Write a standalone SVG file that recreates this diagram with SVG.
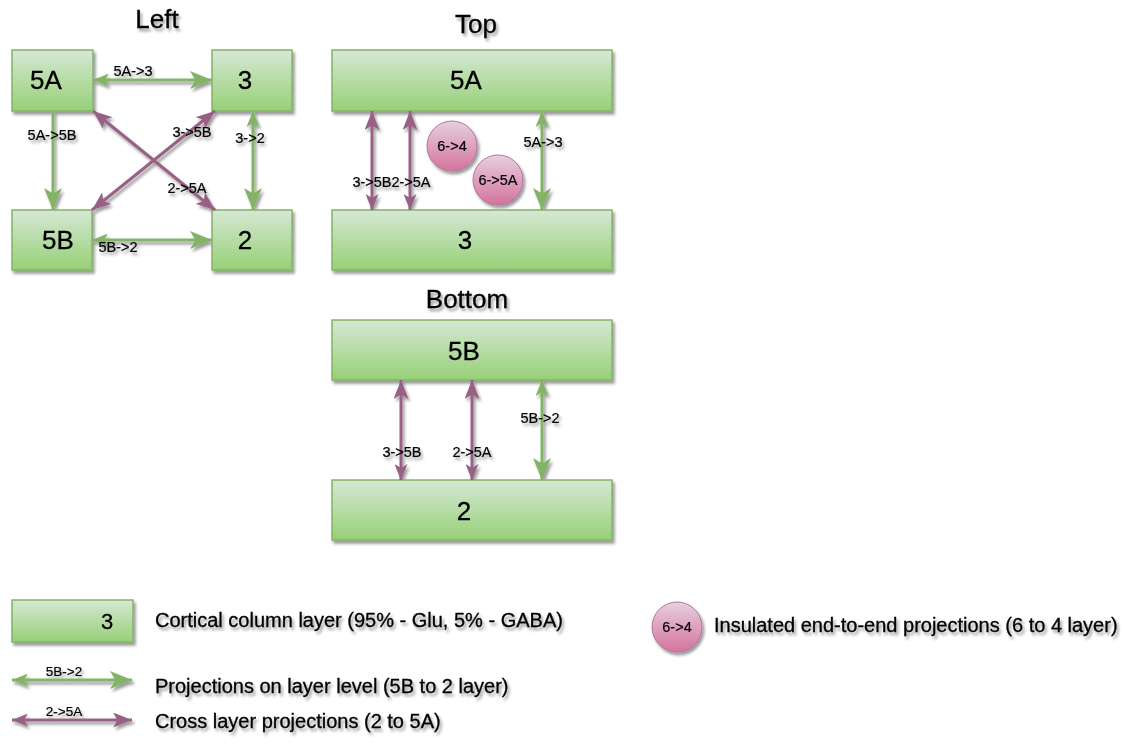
<svg xmlns="http://www.w3.org/2000/svg" width="1139" height="747" viewBox="0 0 1139 747">
<defs>
<linearGradient id="gG" x1="0" y1="0" x2="0" y2="1"><stop offset="0" stop-color="#d5e8d4"/><stop offset="1" stop-color="#97d077"/></linearGradient>
<linearGradient id="gP" x1="0" y1="0" x2="0" y2="1"><stop offset="0" stop-color="#e6d0de"/><stop offset="1" stop-color="#d5739d"/></linearGradient>
<filter id="sh" x="-20%" y="-20%" width="140%" height="160%">
<feGaussianBlur in="SourceAlpha" stdDeviation="1.6"/>
<feOffset dx="2" dy="3" result="b"/>
<feComponentTransfer><feFuncA type="linear" slope="0.4"/></feComponentTransfer>
<feMerge><feMergeNode/><feMergeNode in="SourceGraphic"/></feMerge>
</filter>
<marker id="gB" viewBox="0 0 22 18" refX="22" refY="9" markerWidth="22" markerHeight="18" markerUnits="userSpaceOnUse" orient="auto-start-reverse"><path d="M0,0 L22,9 L0,18 L5.5,9 Z" fill="#82b366"/></marker>
<marker id="gS" viewBox="0 0 16 13" refX="16" refY="6.5" markerWidth="16" markerHeight="13" markerUnits="userSpaceOnUse" orient="auto-start-reverse"><path d="M0,0 L16,6.5 L0,13 L4,6.5 Z" fill="#82b366"/></marker>
<marker id="pB" viewBox="0 0 19 15" refX="19" refY="7.5" markerWidth="19" markerHeight="15" markerUnits="userSpaceOnUse" orient="auto-start-reverse"><path d="M0,0 L19,7.5 L0,15 L4.5,7.5 Z" fill="#996185"/></marker>
<marker id="pS" viewBox="0 0 16 13" refX="16" refY="6.5" markerWidth="16" markerHeight="13" markerUnits="userSpaceOnUse" orient="auto-start-reverse"><path d="M0,0 L16,6.5 L0,13 L4,6.5 Z" fill="#996185"/></marker>
</defs>
<style>
.box{fill:url(#gG);stroke:#82b366;stroke-width:1.5}
.cir{fill:url(#gP);stroke:#b5739d;stroke-width:1}
text{font-family:"Liberation Sans",Arial,sans-serif;fill:#000;stroke:#000;stroke-width:0.3}
.bl{font-size:26px;text-anchor:middle}
.tt{font-size:26px;text-anchor:middle}
.al{font-size:14.5px;text-anchor:middle;stroke-width:0.2}
.lg{font-size:20px}
.g{stroke:#82b366;stroke-width:3;fill:none}
.p{stroke:#996185;stroke-width:3;fill:none}
</style>
<rect width="1139" height="747" fill="#ffffff"/>
<g filter="url(#sh)">
<g id="titles">
<text class="tt" x="157" y="28">Left</text>
<text class="tt" x="476" y="33">Top</text>
<text class="tt" x="467" y="308">Bottom</text>
</g>
<g id="left-5A"><rect class="box" x="12" y="50" width="81" height="61"/><text class="bl" x="46" y="89">5A</text></g>
<g id="left-3"><rect class="box" x="212" y="50" width="80" height="61"/><text class="bl" x="245" y="89">3</text></g>
<g id="left-5B"><rect class="box" x="12" y="210" width="80" height="60"/><text class="bl" x="58" y="249">5B</text></g>
<g id="left-2"><rect class="box" x="212" y="210" width="80" height="60"/><text class="bl" x="245" y="249">2</text></g>
<g id="top-5A"><rect class="box" x="332" y="50" width="280" height="61"/><text class="bl" x="466" y="89">5A</text></g>
<g id="top-3"><rect class="box" x="332" y="210" width="280" height="60"/><text class="bl" x="465" y="249">3</text></g>
<g id="bottom-5B"><rect class="box" x="332" y="320" width="280" height="60"/><text class="bl" x="464" y="360">5B</text></g>
<g id="bottom-2"><rect class="box" x="332" y="480" width="280" height="60"/><text class="bl" x="464" y="520">2</text></g>
<g id="circle-6-4"><circle class="cir" cx="452" cy="146" r="25"/><text class="al" x="452" y="151">6-&gt;4</text></g>
<g id="circle-6-5A"><circle class="cir" cx="498" cy="180" r="25"/><text class="al" x="498" y="185">6-&gt;5A</text></g>
<g id="connectors">
<line class="g" x1="93" y1="80" x2="212" y2="80" marker-start="url(#gS)" marker-end="url(#gB)"/>
<line class="g" x1="53" y1="111" x2="53" y2="210" marker-end="url(#gB)"/>
<line class="g" x1="253" y1="111" x2="253" y2="210" marker-start="url(#gS)" marker-end="url(#gB)"/>
<line class="g" x1="92" y1="240" x2="212" y2="240" marker-start="url(#gS)" marker-end="url(#gB)"/>
<line class="p" x1="93" y1="111" x2="215" y2="210" marker-start="url(#pB)" marker-end="url(#pB)"/>
<line class="p" x1="215" y1="111" x2="92" y2="210" marker-start="url(#pB)" marker-end="url(#pB)"/>
<line class="p" x1="372" y1="210" x2="372" y2="111" marker-start="url(#pS)" marker-end="url(#pB)"/>
<line class="p" x1="410" y1="210" x2="410" y2="111" marker-start="url(#pS)" marker-end="url(#pB)"/>
<line class="g" x1="542" y1="111" x2="542" y2="210" marker-start="url(#gS)" marker-end="url(#gB)"/>
<line class="p" x1="401" y1="480" x2="401" y2="380" marker-start="url(#pS)" marker-end="url(#pB)"/>
<line class="p" x1="472" y1="480" x2="472" y2="380" marker-start="url(#pS)" marker-end="url(#pB)"/>
<line class="g" x1="542" y1="380" x2="542" y2="480" marker-start="url(#gS)" marker-end="url(#gB)"/>
<text class="al" x="133" y="76">5A-&gt;3</text>
<text class="al" x="52" y="140">5A-&gt;5B</text>
<text class="al" x="192" y="137">3-&gt;5B</text>
<text class="al" x="250" y="143">3-&gt;2</text>
<text class="al" x="187" y="193">2-&gt;5A</text>
<text class="al" x="118" y="252">5B-&gt;2</text>
<text class="al" x="372" y="187">3-&gt;5B</text>
<text class="al" x="411" y="187">2-&gt;5A</text>
<text class="al" x="543" y="147">5A-&gt;3</text>
<text class="al" x="402" y="457">3-&gt;5B</text>
<text class="al" x="472" y="457">2-&gt;5A</text>
<text class="al" x="540" y="423">5B-&gt;2</text>
</g>
<g id="legend">
<g id="legend-layer"><rect class="box" x="12" y="600" width="121" height="42"/><text class="bl" x="107" y="629" style="font-size:22px">3</text></g>
<text class="lg" x="155" y="627">Cortical column layer (95% - Glu, 5% - GABA)</text>
<g id="legend-green"><line class="g" x1="12" y1="680" x2="132" y2="680" marker-start="url(#gS)" marker-end="url(#gB)"/><text class="al" x="64" y="676" style="font-size:13.5px">5B-&gt;2</text></g>
<text class="lg" x="155" y="693">Projections on layer level (5B to 2 layer)</text>
<g id="legend-purple"><line class="p" x1="12" y1="720" x2="132" y2="720" marker-start="url(#pS)" marker-end="url(#pB)"/><text class="al" x="64" y="716" style="font-size:13.5px">2-&gt;5A</text></g>
<text class="lg" x="155" y="728">Cross layer projections (2 to 5A)</text>
<g id="legend-circle"><circle class="cir" cx="677" cy="627" r="25"/><text class="al" x="677" y="632">6-&gt;4</text></g>
<text class="lg" x="714" y="632">Insulated end-to-end projections (6 to 4 layer)</text>
</g>
</g>
</svg>
